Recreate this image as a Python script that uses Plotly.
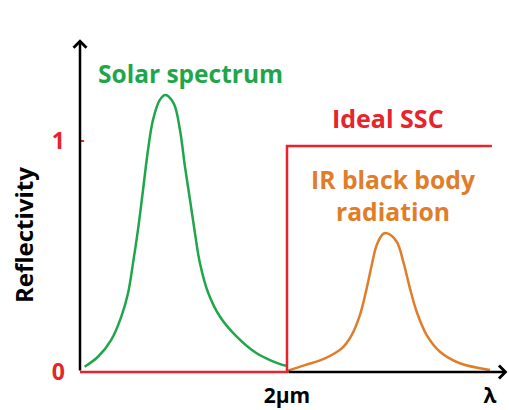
import plotly.graph_objects as go

# Solar spectrum (green)
solar_x = [0.045, 0.174, 0.302, 0.399, 0.464, 0.512, 0.560, 0.609, 0.657, 0.705, 0.770, 0.824, 0.905,
           0.966, 1.014, 1.063, 1.111, 1.159, 1.240, 1.353, 1.514, 1.707, 1.964, 2.0]
solar_y = [0.023, 0.066, 0.139, 0.240, 0.341, 0.470, 0.615, 0.788, 0.961, 1.091, 1.177, 1.199, 1.163,
           1.048, 0.889, 0.745, 0.600, 0.471, 0.341, 0.239, 0.153, 0.081, 0.030, 0.028]

# IR black body radiation (orange)
ir_x = [2.0, 2.174, 2.367, 2.528, 2.625, 2.705, 2.770, 2.819, 2.867, 2.930, 2.971, 3.060, 3.124,
        3.188, 3.253, 3.350, 3.478, 3.671, 3.961]
ir_y = [0.005, 0.030, 0.059, 0.102, 0.160, 0.247, 0.362, 0.463, 0.550, 0.598, 0.600, 0.564, 0.477,
        0.362, 0.261, 0.160, 0.088, 0.038, 0.009]

# Ideal SSC (red step)
ssc_x = [0.0, 2.0, 2.0, 3.98]
ssc_y = [0.0, 0.0, 0.978, 0.978]

y_tickvals = [0, 1]
y_ticktext = ["0", "1"]
x_tickvals = [2.0, 3.96]
x_ticktext = ["2μm", "λ"]

GREEN = "#1fa64b"
ORANGE = "#e07d2a"
RED = "#e8232b"
FONT = "Open Sans"

fig = go.Figure()
fig.add_trace(go.Scatter(x=solar_x, y=solar_y, mode="lines", line=dict(color=GREEN, width=2.5, shape="spline", smoothing=1.0), hoverinfo="skip"))
fig.add_trace(go.Scatter(x=ir_x, y=ir_y, mode="lines", line=dict(color=ORANGE, width=2.5, shape="spline", smoothing=1.0), hoverinfo="skip"))
fig.add_trace(go.Scatter(x=ssc_x, y=ssc_y, mode="lines", line=dict(color=RED, width=2.5), hoverinfo="skip"))

x_max = 4.13
y_max = 1.44

annotations = [
    # axes arrows
    dict(x=x_max, y=0, ax=2.0, ay=0, xref="x", yref="y", axref="x", ayref="y",
         showarrow=True, arrowhead=4, arrowsize=1, arrowwidth=2.5, arrowcolor="black", text=""),
    dict(x=0, y=y_max, ax=0, ay=0, xref="x", yref="y", axref="x", ayref="y",
         showarrow=True, arrowhead=4, arrowsize=1, arrowwidth=2.5, arrowcolor="black", text=""),
    dict(x=1.063, y=1.294, xref="x", yref="y", text="Solar spectrum", showarrow=False,
         xanchor="center", yanchor="middle",
         font=dict(family=FONT, size=24.5, color=GREEN, weight="bold")),
    dict(x=2.976, y=1.10, xref="x", yref="y", text="Ideal SSC", showarrow=False,
         xanchor="center", yanchor="middle",
         font=dict(family=FONT, size=25, color=RED, weight="bold")),
    dict(x=3.03, y=0.766, xref="x", yref="y", text="IR black body<br>radiation", showarrow=False,
         xanchor="center", yanchor="middle",
         font=dict(family=FONT, size=24.7, color=ORANGE, weight="bold")),
    dict(x=-0.133, y=0.414, xref="paper", yref="paper", text="Reflectivity", showarrow=False,
         xanchor="center", yanchor="middle", textangle=-90,
         font=dict(family=FONT, size=24, color="black", weight="bold")),
]

fig.update_layout(
    width=509, height=410,
    margin=dict(l=80, r=0, t=30, b=30),
    paper_bgcolor="white", plot_bgcolor="white",
    showlegend=False,
    annotations=annotations,
    shapes=[dict(type="line", xref="x", yref="y", x0=-0.05, x1=0.04, y0=1, y1=1,
                 line=dict(color=RED, width=2))],
    xaxis=dict(range=[0, 4.145], showgrid=False, zeroline=False, showline=False,
               automargin=False, tickvals=x_tickvals, ticktext=x_ticktext, ticks="",
               ticklabelstandoff=1,
               tickfont=dict(family=FONT, size=21, color="black", weight="bold")),
    yaxis=dict(range=[-0.0346, 1.4805], showgrid=False, zeroline=False, showline=False,
               automargin=False, tickvals=y_tickvals, ticktext=y_ticktext, ticks="", ticklabelstandoff=14,
               tickfont=dict(family=FONT, size=23, color=RED, weight="bold")),
)

fig.write_html("out.html", config={"displayModeBar": False},
               post_script="document.body.style.margin='0';document.body.style.overflow='hidden';")
